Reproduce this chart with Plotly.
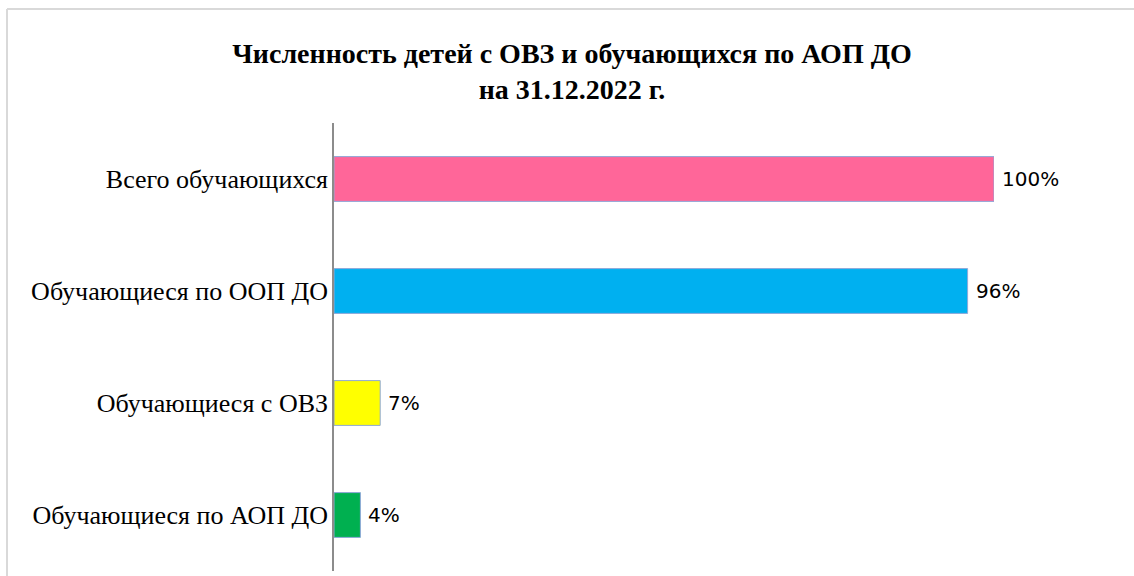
import plotly.graph_objects as go

categories = ["Всего обучающихся", "Обучающиеся по ООП ДО", "Обучающиеся с ОВЗ", "Обучающиеся по АОП ДО"]
values = [1.00, 0.96, 0.07, 0.04]
labels = ["100%", "96%", "7%", "4%"]
colors = ["#FF6699", "#00B0F0", "#FFFF00", "#00B050"]
title_text = "<b>Численность детей с ОВЗ и обучающихся по АОП ДО<br>на 31.12.2022 г.</b>"

W, H = 1134, 576
L, R, T, B = 334, W - 994, 123, 5
pw, ph = W - L - R, H - T - B


def px_x(px):
    return (px - L) / pw


def px_y(py):
    return 1 + (T - py) / ph


serif = "Liberation Serif, Times New Roman, serif"

fig = go.Figure(go.Bar(
    y=categories, x=values, orientation="h",
    marker=dict(color=colors, line=dict(color="#8FA8D8", width=1)),
    width=0.4,
    hoverinfo="skip",
))

annotations = []
for c, v, t in zip(categories, values, labels):
    annotations.append(dict(
        x=v, y=c, xref="x", yref="y", text=t, showarrow=False,
        xanchor="left", yanchor="middle", xshift=6,
        font=dict(family="DejaVu Sans, sans-serif", size=20, color="#000000"),
    ))

fig.update_layout(
    width=W, height=H,
    margin=dict(l=L, r=R, t=T, b=B),
    paper_bgcolor="white", plot_bgcolor="white",
    showlegend=False,
    title=dict(
        text=title_text,
        x=572 / W, xref="container", xanchor="center",
        y=1 - 63 / H, yref="container", yanchor="middle",
        font=dict(family=serif, size=28, color="#000000"),
    ),
    xaxis=dict(range=[0, 1], visible=False, fixedrange=True),
    yaxis=dict(
        autorange=False, range=[3.5, -0.5],
        showline=True, linecolor="#8C8C8C", linewidth=1.5,
        showgrid=False, zeroline=False, ticks="",
        ticklabelstandoff=-1,
        tickfont=dict(family=serif, size=26, color="#000000"),
    ),
    annotations=annotations,
    shapes=[
        dict(type="line", xref="paper", yref="paper",
             x0=px_x(7), x1=px_x(7), y0=px_y(9), y1=px_y(H + 5),
             line=dict(color="#D9D9D9", width=2)),
        dict(type="line", xref="paper", yref="paper",
             x0=px_x(7), x1=px_x(W + 5), y0=px_y(9), y1=px_y(9),
             line=dict(color="#D9D9D9", width=2)),
    ],
    bargap=0.6,
)

fig.write_html("out.html")
